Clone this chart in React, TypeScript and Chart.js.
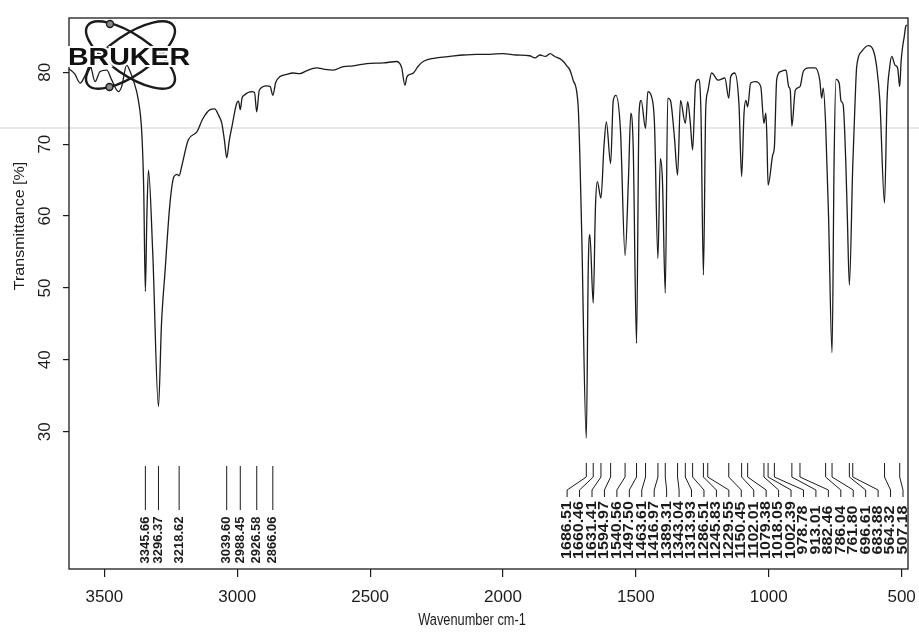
import React, { useEffect, useRef } from "react";
import { Chart, registerables } from "chart.js";

Chart.register(...registerables);

// ---- data ----
const wavenumbers = [
  3633, 3612, 3591, 3573, 3554, 3535, 3516, 3491, 3472, 3447, 3435, 3416, 3403, 3391, 3372, 3359, 3352,
  3345.66, 3340, 3334, 3318, 3296.37, 3285, 3272, 3253, 3238, 3226, 3218.62, 3209, 3184, 3152, 3130,
  3102, 3085, 3070, 3058, 3048, 3039.6, 3030, 3020, 3002, 2995, 2988.45, 2982, 2974, 2945, 2935,
  2926.58, 2917, 2889, 2876, 2866.06, 2855, 2839, 2815, 2789, 2764, 2740, 2701, 2670, 2639, 2600,
  2563, 2513, 2450, 2400, 2388, 2381, 2369, 2362, 2356, 2337, 2320, 2300, 2250, 2200, 2150, 2100,
  2050, 2000, 1950, 1900, 1880, 1861, 1840, 1823, 1805, 1786, 1770, 1760, 1748, 1736, 1717, 1704,
  1686.51, 1679, 1673, 1660.46, 1652, 1645, 1631.41, 1620, 1611, 1594.97, 1585, 1575, 1558, 1540.56,
  1528, 1519, 1510, 1497.5, 1488, 1480, 1463.61, 1455, 1441, 1430, 1416.97, 1408, 1400, 1389.31,
  1380, 1370, 1355, 1343.04, 1332, 1313.93, 1305, 1295, 1286.51, 1275, 1264, 1255, 1245.83, 1237,
  1229.55, 1215, 1190, 1165, 1150.45, 1143, 1128, 1112, 1102.01, 1093, 1086, 1079.38, 1068, 1050,
  1030, 1018.05, 1011, 1007, 1002.39, 985, 978.78, 970, 955, 935, 925, 919, 913.01, 900, 882.46,
  870, 850, 825, 808, 801, 795, 786.04, 775, 761.8, 754, 747, 735, 728, 720, 710, 704, 696.61,
  683.88, 675, 669, 650, 625, 607, 594, 582, 564.32, 555, 545, 537, 525, 515, 507.18, 502, 496,
  490, 485, 480,
];

const transmittance = [
  80.5, 79.8, 78.5, 79.5, 81, 78.7, 80.1, 80.3, 78.9, 77.3, 78, 81, 80.1, 78.9, 76.1, 71.5, 64,
  49.5, 60, 66.4, 55, 33.5, 45, 52.1, 61.8, 65.5, 65.8, 65.6, 66.9, 70.6, 71.7, 73.5,
  74.8, 74.9, 74, 72.9, 70.5, 68.1, 70.5, 72.4, 75.7, 76, 74.8, 76.4, 76.8, 77.3, 77.2,
  74.5, 77.5, 78.1, 78, 76.8, 78.6, 79.4, 79.7, 79.9, 79.8, 80.2, 80.6, 80.4, 80.3, 80.8,
  80.9, 81.2, 81.3, 81.5, 81.2, 80.6, 78.2, 79.3, 79.6, 79.9, 80.8, 81.5, 82, 82.2, 82.4, 82.5,
  82.5, 82.6, 82.4, 82.3, 82, 82.4, 82.2, 82.6, 82.2, 81.9, 81.4, 80.9, 80.3, 78.9, 75.2, 58,
  29.1, 53, 57.4, 47.9, 61.3, 64.8, 62.5, 69.7, 73.1, 67.3, 76.1, 76.8, 72, 54.5,
  65, 74.3, 69.6, 42.3, 74.3, 76.1, 72.2, 77.3, 76.6, 72.9, 54.1, 68, 65, 49.3,
  76.4, 76.1, 71, 65.7, 76.1, 72.9, 75.9, 72.9, 69.2, 78.5, 79, 74.3, 51.8, 75,
  77.3, 79.9, 78.9, 79.2, 76.4, 79.4, 79.9, 75.5, 65.5, 74.3, 76.1, 75.2, 78.5, 78.7,
  78, 72.9, 74.3, 71, 64.3, 68.5, 69.6, 79, 80.1, 80.3, 78, 77.5, 72.5, 77.5, 78,
  80.1, 80.6, 80.6, 78.9, 76.4, 77.8, 72.9, 60, 41, 67.8, 79, 78.5, 76, 75.5, 67.4, 59.5, 50.4,
  67, 76.1, 80.8, 82.9, 83.7, 83.1, 80.8, 76.1, 61.8, 76, 80.7, 82.2, 81, 80.6, 78, 81.5, 83.6,
  85, 86.3, 86.6,
];

const xTickValues = [3500, 3000, 2500, 2000, 1500, 1000, 500];
const yTickValues = [30, 40, 50, 60, 70, 80];

const peaksHigh = [3345.66, 3296.37, 3218.62, 3039.6, 2988.45, 2926.58, 2866.06];
const peaksFingerprint = [
  1686.51, 1660.46, 1631.41, 1594.97, 1540.56, 1497.5, 1463.61, 1416.97, 1389.31, 1343.04,
  1313.93, 1286.51, 1245.83, 1229.55, 1150.45, 1102.01, 1079.38, 1018.05, 1002.39, 978.78,
  913.01, 882.46, 786.04, 761.8, 696.61, 683.88, 564.32, 507.18,
];

const xTitle = "Wavenumber cm-1";
const yTitle = "Transmittance [%]";
const logoText = "BRUKER";

const FONT = '"Liberation Sans", Arial, sans-serif';
const INK = "#1b1b1b";

function spread(pix: number[], gap: number, maxRight: number): number[] {
  const p = pix.slice();
  for (let i = 1; i < p.length; i++) p[i] = Math.max(p[i], p[i - 1] + gap);
  if (p[p.length - 1] > maxRight) p[p.length - 1] = maxRight;
  for (let i = p.length - 2; i >= 0; i--) p[i] = Math.min(p[i], p[i + 1] - gap);
  return p;
}

const irPlugin = {
  id: "irDecor",
  beforeDraw(chart: any) {
    const ctx = chart.ctx;
    ctx.save();
    ctx.strokeStyle = "rgba(0,0,0,0.09)";
    ctx.lineWidth = 2;
    ctx.beginPath();
    ctx.moveTo(0, 128);
    ctx.lineTo(chart.width, 128);
    ctx.stroke();
    ctx.restore();
  },
  afterDraw(chart: any) {
    const { ctx, chartArea: a, scales } = chart;
    const x = scales.x;
    const y = scales.y;
    ctx.save();
    // frame
    ctx.strokeStyle = INK;
    ctx.lineWidth = 1.3;
    ctx.strokeRect(a.left, a.top, a.right - a.left, a.bottom - a.top);

    // y tick labels (rotated)
    ctx.fillStyle = INK;
    ctx.font = `17px ${FONT}`;
    ctx.textAlign = "center";
    ctx.textBaseline = "middle";
    for (const v of yTickValues) {
      const py = y.getPixelForValue(v);
      ctx.save();
      ctx.translate(a.left - 24, py);
      ctx.rotate(-Math.PI / 2);
      ctx.fillText(String(v), 0, 0);
      ctx.restore();
    }
    // y title
    ctx.save();
    ctx.font = `16px ${FONT}`;
    ctx.translate(19.5, 226);
    ctx.rotate(-Math.PI / 2);
    ctx.scale(1, 0.92);
    ctx.fillText(yTitle, 0, 0);
    ctx.restore();
    // x title (scan is slightly condensed horizontally)
    ctx.save();
    ctx.font = `16px ${FONT}`;
    ctx.translate(472, 621);
    ctx.scale(0.8, 1);
    ctx.fillText(xTitle, 0, 0);
    ctx.restore();

    // peak labels
    const drawGroup = (vals: number[], o: any) => {
      const px = vals.map((v) => x.getPixelForValue(v));
      const lx = spread(px, 12.44, a.right - 5);
      ctx.strokeStyle = INK;
      ctx.lineWidth = 1;
      for (let i = 0; i < vals.length; i++) {
        ctx.beginPath();
        ctx.moveTo(px[i], o.top);
        ctx.lineTo(px[i], o.bend1);
        ctx.lineTo(lx[i], o.bend2);
        ctx.lineTo(lx[i], o.bottom);
        ctx.stroke();
        ctx.save();
        ctx.translate(lx[i], o.textY);
        ctx.rotate(-Math.PI / 2);
        ctx.scale(1, o.squeeze);
        ctx.font = `bold ${o.size}px ${FONT}`;
        ctx.fillStyle = INK;
        ctx.textAlign = "center";
        ctx.textBaseline = "middle";
        ctx.fillText(vals[i].toFixed(2), 0, 0);
        ctx.restore();
      }
    };
    drawGroup(peaksHigh, { top: 466, bend1: 480, bend2: 490, bottom: 510, textY: 540, size: 13, squeeze: 1 });
    drawGroup(peaksFingerprint, { top: 463, bend1: 477, bend2: 490, bottom: 497, textY: 530, size: 16, squeeze: 0.88 });

    // logo
    ctx.strokeStyle = INK;
    ctx.lineWidth = 2.4;
    for (const ang of [0.6, -0.6]) {
      ctx.beginPath();
      ctx.ellipse(130.5, 55, 52, 20, ang, 0, Math.PI * 2);
      ctx.stroke();
    }
    for (const [cx, cy] of [[110, 24], [109.5, 87]]) {
      ctx.beginPath();
      ctx.arc(cx, cy, 3.5, 0, Math.PI * 2);
      ctx.fillStyle = "#8a8a8a";
      ctx.fill();
      ctx.lineWidth = 1.4;
      ctx.stroke();
    }
    ctx.save();
    ctx.translate(129, 65);
    ctx.scale(1.19, 1);
    ctx.font = `bold 24px ${FONT}`;
    ctx.textAlign = "center";
    ctx.textBaseline = "alphabetic";
    ctx.lineWidth = 4;
    ctx.strokeStyle = "#ffffff";
    ctx.strokeText(logoText, 0, 0);
    ctx.fillStyle = "#111";
    ctx.fillText(logoText, 0, 0);
    ctx.restore();

    ctx.restore();
  },
};

export default function App() {
  const ref = useRef<HTMLCanvasElement | null>(null);
  useEffect(() => {
    const canvas = ref.current;
    if (!canvas) return;
    const points = wavenumbers.map((w, i) => ({ x: w, y: transmittance[i] }));
    const chart = new Chart(canvas, {
      type: "line",
      data: {
        datasets: [
          {
            data: points,
            borderColor: INK,
            borderWidth: 1.3,
            pointRadius: 0,
            fill: false,
            cubicInterpolationMode: "monotone",
          },
        ],
      },
      options: {
        animation: false,
        responsive: false,
        devicePixelRatio: 1,
        events: [],
        layout: { padding: { top: 18, right: 11, left: 0, bottom: 0 } },
        plugins: { legend: { display: false }, tooltip: { enabled: false } },
        scales: {
          x: {
            type: "linear",
            reverse: true,
            min: 476,
            max: 3633,
            position: "bottom",
            afterBuildTicks: (s: any) => {
              s.ticks = xTickValues.map((v) => ({ value: v }));
            },
            afterFit: (s: any) => {
              s.height = 66;
              s.paddingLeft = 0;
              s.paddingRight = 0;
            },
            grid: { drawOnChartArea: false, drawTicks: true, tickLength: 8, color: INK, lineWidth: 1.2 },
            border: { display: false },
            ticks: {
              autoSkip: false,
              maxRotation: 0,
              minRotation: 0,
              padding: 10,
              color: INK,
              font: { family: FONT, size: 17 },
              callback: (v: any) => String(v),
            },
          },
          y: {
            type: "linear",
            min: 10.9,
            max: 87.55,
            position: "left",
            afterBuildTicks: (s: any) => {
              s.ticks = yTickValues.map((v) => ({ value: v }));
            },
            afterFit: (s: any) => {
              s.width = 69;
              s.paddingTop = 0;
              s.paddingBottom = 0;
            },
            grid: { drawOnChartArea: false, drawTicks: true, tickLength: 6, color: INK, lineWidth: 1.2 },
            border: { display: false },
            ticks: { display: false },
          },
        },
      },
      plugins: [irPlugin],
    } as any);
    return () => chart.destroy();
  }, []);
  return (
    <canvas
      ref={ref}
      width={919}
      height={635}
      style={{ position: "fixed", left: 0, top: 0, background: "#ffffff" }}
    />
  );
}
